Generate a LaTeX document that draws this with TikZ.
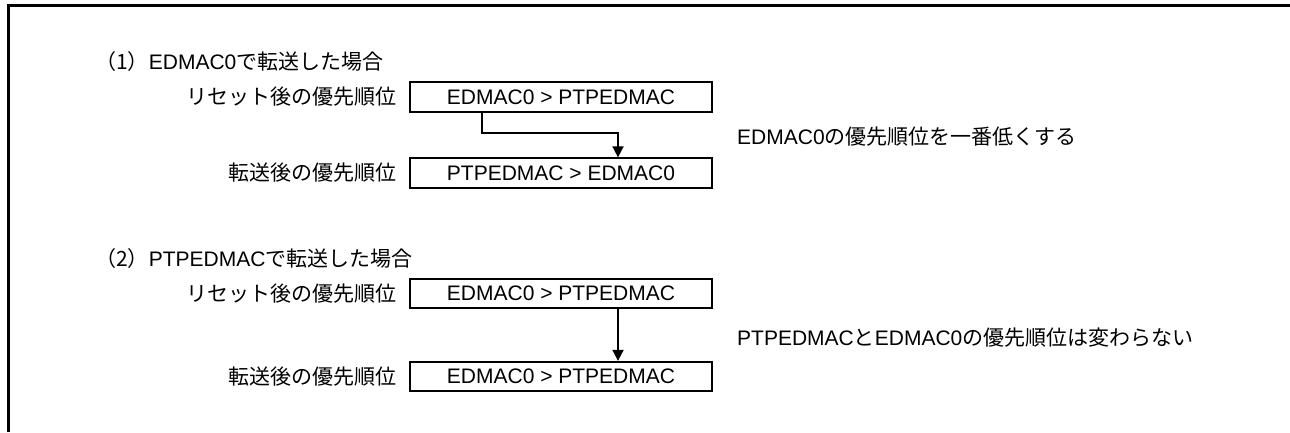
\documentclass[tikz,border=0pt]{standalone}
\usepackage{fontspec}
\setmainfont{Liberation Sans}
\newfontfamily\jpf{Noto Sans CJK JP}
\usetikzlibrary{arrows.meta}
\newcommand\J[1]{{\jpf #1}}
\begin{document}
\begin{tikzpicture}[x=1pt,y=-1pt,
  txt/.style={font=\fontsize{21}{25}\selectfont, inner sep=0pt},
  lbl/.style={txt, anchor=east},
  pbox/.style={txt, draw, line width=1.8pt, minimum width=302pt, minimum height=29.5pt},
  arr/.style={line width=1.8pt, -{Triangle[length=11pt,width=11pt]}},
  frame/.style={line width=3pt}]
\useasboundingbox (0,0) rectangle (1290,432);
\draw[frame] (8.5,432) -- (8.5,5.5) -- (1290,5.5);
% section 1
\node[txt, anchor=west] (t1) at (95,62) {\J{（1）}EDMAC0\J{で転送した場合}};
\node[pbox] (b1a) at (561,97) {EDMAC0 > PTPEDMAC};
\node[pbox] (b1b) at (561,173) {PTPEDMAC > EDMAC0};
\node[lbl] (l1a) at ([xshift=-12pt]b1a.west) {\J{リセット後の優先順位}};
\node[lbl] (l1b) at ([xshift=-12pt]b1b.west) {\J{転送後の優先順位}};
\node[txt, anchor=west] (n1) at (737,137) {EDMAC0\J{の優先順位を一番低くする}};
\draw[arr] ([xshift=-79pt]b1a.south) |- ([xshift=57pt,yshift=24pt]b1b.north) -- ([xshift=57pt]b1b.north);
% section 2
\node[txt, anchor=west] (t2) at (95,259) {\J{（2）}PTPEDMAC\J{で転送した場合}};
\node[pbox] (b2a) at (561,293.5) {EDMAC0 > PTPEDMAC};
\node[pbox] (b2b) at (561,376.5) {EDMAC0 > PTPEDMAC};
\node[lbl] (l2a) at ([xshift=-12pt]b2a.west) {\J{リセット後の優先順位}};
\node[lbl] (l2b) at ([xshift=-12pt]b2b.west) {\J{転送後の優先順位}};
\node[txt, anchor=west] (n2) at (737,338) {PTPEDMAC\J{と}EDMAC0\J{の優先順位は変わらない}};
\draw[arr] ([xshift=57pt]b2a.south) -- ([xshift=57pt]b2b.north);
\end{tikzpicture}
\end{document}
